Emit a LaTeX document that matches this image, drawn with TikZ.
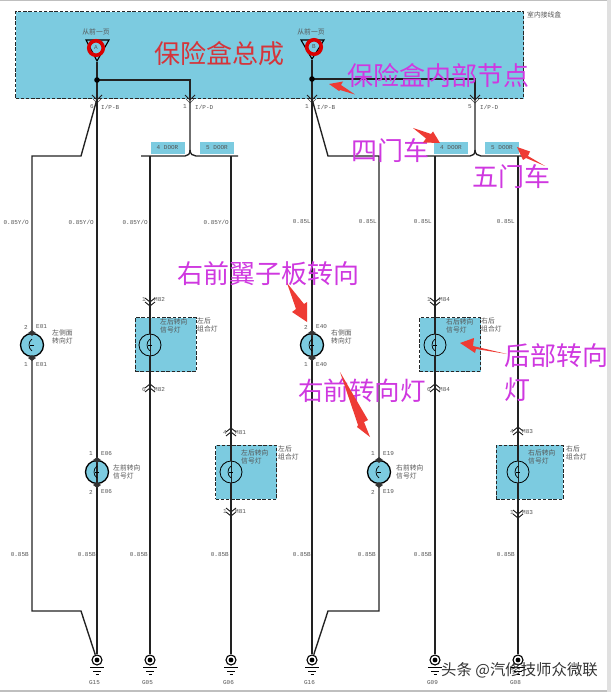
\documentclass[tikz,border=0pt]{standalone}
\usepackage{fontspec}
\setmainfont{Liberation Serif}
\newfontfamily\cjk{Noto Sans CJK SC}
\newfontfamily\mono{Liberation Mono}
\usetikzlibrary{calc}
\definecolor{boxblue}{HTML}{7CCBE0}
\definecolor{wirecol}{HTML}{222222}
\definecolor{redtxt}{HTML}{D5343A}
\definecolor{magtxt}{HTML}{CF38E0}
\definecolor{arrowred}{HTML}{EE3B34}
\definecolor{small}{HTML}{555555}
\tikzset{
  wire/.style={draw=wirecol,line width=1.35pt,line join=miter},
  zone/.style={draw=black!85,fill=boxblue,line width=1.3pt,dash pattern=on 3.4pt off 1.8pt},
  tagbox/.style={fill=boxblue,inner sep=0pt,minimum width=34pt,minimum height=11.5pt,font=\mono\fontsize{6}{6}\selectfont,text=small},
  lbl/.style={font=\mono\fontsize{6}{6}\selectfont,text=small,inner sep=0pt},
  lblc/.style={font=\cjk\fontsize{6.8}{7.6}\selectfont,text=small,inner sep=0pt,align=left},
  bigred/.style={font=\cjk\fontsize{26}{26}\selectfont,text=redtxt,inner sep=0pt},
  bigmag/.style={font=\cjk\fontsize{26}{26}\selectfont,text=magtxt,inner sep=0pt},
  arrowfill/.style={fill=arrowred,draw=none},
  chev/.style={draw=wirecol,line width=.9pt},
  lampbody/.style={circle,draw=black,fill=boxblue,line width=1.3pt,minimum size=23pt,inner sep=0pt},
  lampthin/.style={circle,draw=black,line width=.8pt,minimum size=22pt,inner sep=0pt},
  ringmark/.style={circle,draw=red!85!black,line width=3.6pt,minimum width=14.5pt,minimum height=14.5pt,inner sep=0pt,font=\mono\fontsize{6}{6}\selectfont,text=small},
}
\newcommand{\chevdown}[2]{%
  \draw[chev] (#1-5,#2-3) -- (#1,#2+1) -- (#1+5,#2-3);
  \draw[chev] (#1-5,#2+1) -- (#1,#2+5) -- (#1+5,#2+1);}
\newcommand{\chevup}[2]{%
  \draw[chev] (#1-5,#2+3) -- (#1,#2-1) -- (#1+5,#2+3);
  \draw[chev] (#1-5,#2-1) -- (#1,#2-5) -- (#1+5,#2-1);}
\newcommand{\filament}[2]{%
  \draw[line width=.7pt,black] (#1-2,#2) -- (#1+2,#2);
  \draw[line width=.7pt,black] (#1,#2-6) .. controls (#1-4,#2-3) and (#1-4,#2+3) .. (#1,#2+6);}
\newcommand{\gnd}[3]{%
  \node[circle,draw=black,fill=white,line width=1.1pt,minimum size=10pt,inner sep=0pt] (#2) at (#1,660) {};
  \fill[black] (#1,660) circle (2.4pt);
  \draw[line width=1.2pt,black] (#1-7,667.5) -- (#1+7,667.5);
  \draw[line width=.9pt,black] (#1-4,671) -- (#1+4,671);
  \draw[line width=.8pt,black] (#1-1.5,674.5) -- (#1+1.5,674.5);
  \node[lbl] at (#1-2.5,683) {#3};}
\begin{document}
\begin{tikzpicture}[x=1pt,y=-1pt]
\useasboundingbox (0,0) rectangle (611,692);
\fill[white] (0,0) rectangle (611,692);
\fill[black!25] (0,0) rectangle (611,1.2);
\fill[black!25] (0,689.5) rectangle (607,692);
\fill[black!12] (607,0) rectangle (611,692);

\node[zone,minimum width=508pt,minimum height=87pt,inner sep=0pt,anchor=north west] (fusebox) at (15,11) {};
\node[lblc,anchor=west] (fuseboxname) at (527,15) {室内接线盒};

\node[lblc] (fromA) at (96,32) {从前一页};
\node[lblc] (fromB) at (311,32) {从前一页};
\coordinate (triA) at (97,62);
\coordinate (triB) at (312,60);
\draw[black,line width=1.1pt,fill=boxblue] (86,40) -- (109,40) -- (97,61) -- cycle;
\draw[black,line width=1.1pt,fill=boxblue] (301,40) -- (324,40) -- (312,59) -- cycle;
\node[ringmark] (ringA) at (96,48) {A};
\node[ringmark] (ringB) at (314,47) {B};

\coordinate (nodeA) at (97,80);
\coordinate (nodeB) at (312,79);
\coordinate (pinA6) at (97,99);
\coordinate (pinA1) at (190,99);
\coordinate (pinB1) at (312,99);
\coordinate (pinB5) at (475,99);
\draw[wire] (triA) -- (nodeA) -- (pinA6);
\draw[wire] (nodeA) -| (pinA1);
\draw[wire] (triB) -- (nodeB) -- (pinB1);
\draw[wire] (nodeB) -| (pinB5);
\fill[black] (nodeA) circle (2.8pt);
\fill[black] (nodeB) circle (2.8pt);
\foreach \x in {97,190,312,475}{
  \draw[chev] (\x-5,95) -- (\x,100) -- (\x+5,95);
  \draw[black!70,line width=.6pt] (\x-4,99) -- (\x,103) -- (\x+4,99);
}
\node[lbl,anchor=east] at (94,107) {6};
\node[lbl,anchor=west] at (101,107) {I/P-B};
\node[lbl,anchor=east] at (187,107) {1};
\node[lbl,anchor=west] at (195,107) {I/P-D};
\node[lbl,anchor=east] at (309,107) {1};
\node[lbl,anchor=west] at (317,107) {I/P-B};
\node[lbl,anchor=east] at (472,107) {5};
\node[lbl,anchor=west] at (480,107) {I/P-D};

\node[tagbox] (tagL4) at (167.5,148) {4 DOOR};
\node[tagbox] (tagL5) at (217,148) {5 DOOR};
\node[tagbox] (tagR4) at (451,148) {4 DOOR};
\node[tagbox] (tagR5) at (502,148) {5 DOOR};

\node[lampbody] (E01) at (32,345) {};
\node[lampbody] (E06) at (97,472) {};
\node[lampbody] (E40) at (312,345) {};
\node[lampbody] (E19) at (379,472) {};

\node[zone,minimum width=61pt,minimum height=54pt,inner sep=0pt,anchor=north west] (M82) at (134.5,317) {};
\node[zone,minimum width=61pt,minimum height=54pt,inner sep=0pt,anchor=north west] (M81) at (215,444.5) {};
\node[zone,minimum width=61pt,minimum height=54pt,inner sep=0pt,anchor=north west] (M84) at (419,317) {};
\node[zone,minimum width=67pt,minimum height=54pt,inner sep=0pt,anchor=north west] (M83) at (495.5,444.5) {};
\node[lampthin] (L82) at (150,345) {};
\node[lampthin] (L81) at (231,472) {};
\node[lampthin] (L84) at (435,345) {};
\node[lampthin] (L83) at (518,472) {};

\gnd{97}{G15}{G15}
\gnd{150}{G05}{G05}
\gnd{231}{G06}{G06}
\gnd{312}{G16}{G16}
\gnd{435}{G09}{G09}
\gnd{518}{G08}{G08}

\draw[wire] (pinA6) -- (G15);
\draw[wire] (pinB1) -- (G16);
\draw[wire] (pinA6) -- (81,156) -- (32,156) -- (E01);
\draw[wire] (E01) -- (32,611) -- (81,611) -- (G15);
\draw[wire] (pinB1) -- (328,156) -- (379,156) -- (E19);
\draw[wire] (E19) -- (379,611) -- (328,611) -- (G16);
\draw[wire] (pinA1) -- (190,150) .. controls (190,154) and (188,156) .. (185,156) -- (141,156);
\draw[wire] (190,150) .. controls (190,154) and (193,156) .. (196,156) -- (238,156);
\draw[wire] (150,156) -- (L82) -- (G05);
\draw[wire] (231,156) -- (L81) -- (G06);
\draw[wire] (pinB5) -- (475,150) .. controls (475,154) and (473,156) .. (470,156) -- (426,156);
\draw[wire] (475,150) .. controls (475,154) and (478,156) .. (481,156) -- (527,156);
\draw[wire] (435,156) -- (L84) -- (G09);
\draw[wire] (518,156) -- (L83) -- (G08);
\draw[wire,line width=.8pt] (150,334) -- (150,356);
\draw[wire,line width=.8pt] (231,461) -- (231,483);
\draw[wire,line width=.8pt] (435,334) -- (435,356);
\draw[wire,line width=.8pt] (518,461) -- (518,483);

\filament{32}{345}\filament{97}{472}\filament{312}{345}\filament{379}{472}
\filament{150}{345}\filament{231}{472}\filament{435}{345}\filament{518}{472}

\chevdown{150}{301}\chevup{150}{389}
\chevup{231}{433}\chevdown{231}{511}
\chevdown{435}{301}\chevup{435}{389}
\chevup{518}{432}\chevdown{518}{513}
\foreach \x/\y in {32/333,32/358,97/460,97/485,312/333,312/358,379/460,379/485}{
  \draw[fill=white,line width=.5pt,black!80] (\x-3.5,\y) -- (\x,\y-2.5) -- (\x+3.5,\y) -- (\x,\y+2.5) -- cycle;
}

\foreach \x/\y/\a/\b in {
  32/327/2/E01, 32/365/1/E01, 97/454/1/E06, 97/492/2/E06,
  312/327/2/E40, 312/365/1/E40, 379/454/1/E19, 379/492/2/E19,
  150/300/1/M82, 150/390/6/M82, 231/433/4/M81, 231/512/1/M81,
  435/300/1/M84, 435/390/6/M84, 518/432/4/M83, 518/513/1/M83}{
  \node[lbl,anchor=east] at (\x-4,\y) {\a};
  \node[lbl,anchor=west] at (\x+4,\y) {\b};
}

\node[lblc,anchor=west] at (52,337) {左侧面\\转向灯};
\node[lblc,anchor=west] at (113,472) {左前转向\\信号灯};
\node[lblc,anchor=west] at (331,337) {右侧面\\转向灯};
\node[lblc,anchor=west] at (396,472) {右前转向\\信号灯};
\node[lblc,anchor=west] at (160,326) {左后转向\\信号灯};
\node[lblc,anchor=west] at (197,325) {左后\\组合灯};
\node[lblc,anchor=west] at (241,457) {左后转向\\信号灯};
\node[lblc,anchor=west] at (278,453) {左后\\组合灯};
\node[lblc,anchor=west] at (446,326) {右后转向\\信号灯};
\node[lblc,anchor=west] at (481,325) {右后\\组合灯};
\node[lblc,anchor=west] at (528,457) {右后转向\\信号灯};
\node[lblc,anchor=west] at (566,453) {右后\\组合灯};

\foreach \x in {29,94,148,229}{\node[lbl,anchor=east] at (\x,222) {0.85Y/O};}
\foreach \x in {311,377,432,515}{\node[lbl,anchor=east] at (\x,222) {0.85L};}
\foreach \x in {29,96,148,229,311,376,432,515}{\node[lbl,anchor=east] at (\x,555) {0.85B};}

\node[bigred,anchor=center] (tTitle) at (219,54) {保险盒总成};
\node[bigmag] (tNode) at (438,76) {保险盒内部节点};
\node[bigmag] (t4) at (390,151) {四门车};
\node[bigmag] (t5) at (511,177) {五门车};
\node[bigmag] (tFender) at (268,274) {右前翼子板转向};
\node[bigmag,font=\cjk\fontsize{25.5}{26}\selectfont] (tFront) at (362,391) {右前转向灯};
\node[bigmag,anchor=west] (tRear1) at (504,356) {后部转向};
\node[bigmag,anchor=west] (tRear2) at (504,390) {灯};

\fill[arrowfill] (355,94.5) -- (340,90) -- (339,91) -- (329,84) -- (343,81.5) -- (341,85) -- cycle;
\fill[arrowfill] (413,128) -- (431,134) -- (433,131.5) -- (440,143) -- (423,142.5) -- (426,138.5) -- cycle;
\fill[arrowfill] (545,166) -- (528,156) -- (530,151.5) -- (517,147) -- (523,160) -- (526,158) -- cycle;
\fill[arrowfill] (287,283) -- (304,304) -- (307,302) -- (307,322) -- (292,312) -- (296,309) -- cycle;
\fill[arrowfill] (340,372) -- (368,420) -- (364,422) -- (370,437) -- (357,427) -- (358,425) -- cycle;
\fill[arrowfill] (507,354) -- (473,346) -- (474,338) -- (460,343) -- (475,353) -- (476,349) -- cycle;

\node[font=\cjk\fontsize{15.4}{15.4}\selectfont,text=black!80,inner sep=0pt,anchor=west] (wm) at (441,670) {头条 @汽修技师众微联};
\end{tikzpicture}
\end{document}
